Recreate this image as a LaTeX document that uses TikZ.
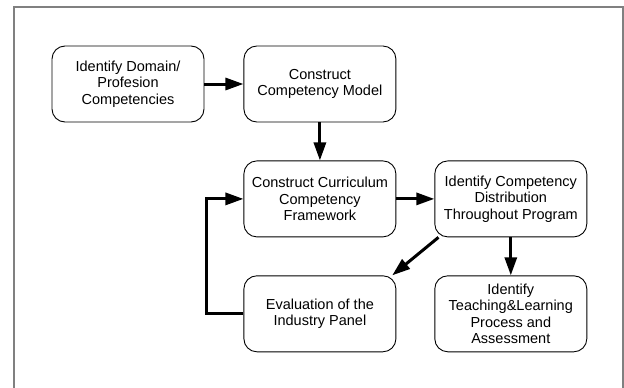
\documentclass[tikz,border=0pt]{standalone}
\usepackage{fontspec}
\setmainfont{Liberation Sans}
\usetikzlibrary{positioning,arrows.meta}

\begin{document}
\begin{tikzpicture}[x=1pt, y=-1pt, >={Triangle[length=18pt,width=12pt]},
  blok/.style={draw, line width=0.9pt, rounded corners=13pt, align=center,
    minimum width=152pt, minimum height=76pt, inner sep=2pt,
    font=\fontsize{14.5}{16.5}\selectfont},
  pijl/.style={->, line width=3pt}]
  \useasboundingbox (0,0) rectangle (624,388);

  % kader
  \draw[gray, line width=1.5pt] (14,390) -- (14,7) -- (623,7) -- (623,390);

  % blokken
  \node[blok] (domein) at (128,84) {Identify Domain/\\Profesion\\Competencies};
  \node[blok, right=39pt of domein] (model) {Construct\\Competency Model};
  \node[blok, below=38pt of model] (kader) {Construct Curriculum\\Competency\\Framework};
  \node[blok, right=38pt of kader] (verdeling) {Identify Competency\\Distribution\\Throughout Program};
  \node[blok, below=38pt of kader] (panel) {Evaluation of the\\Industry Panel};
  \node[blok, below=38pt of verdeling] (onderwijs) {Identify\\Teaching\&Learning\\Process and\\Assessment};

  % pijlen
  \draw[pijl] (domein) -- (model);
  \draw[pijl] (model) -- (kader);
  \draw[pijl] (kader) -- (verdeling);
  \draw[pijl] (verdeling.208) -- (panel.28);
  \draw[pijl] (verdeling) -- (onderwijs);
  \draw[pijl] (panel.west) -- ++(-37,0) |- (kader.west);
\end{tikzpicture}
\end{document}
